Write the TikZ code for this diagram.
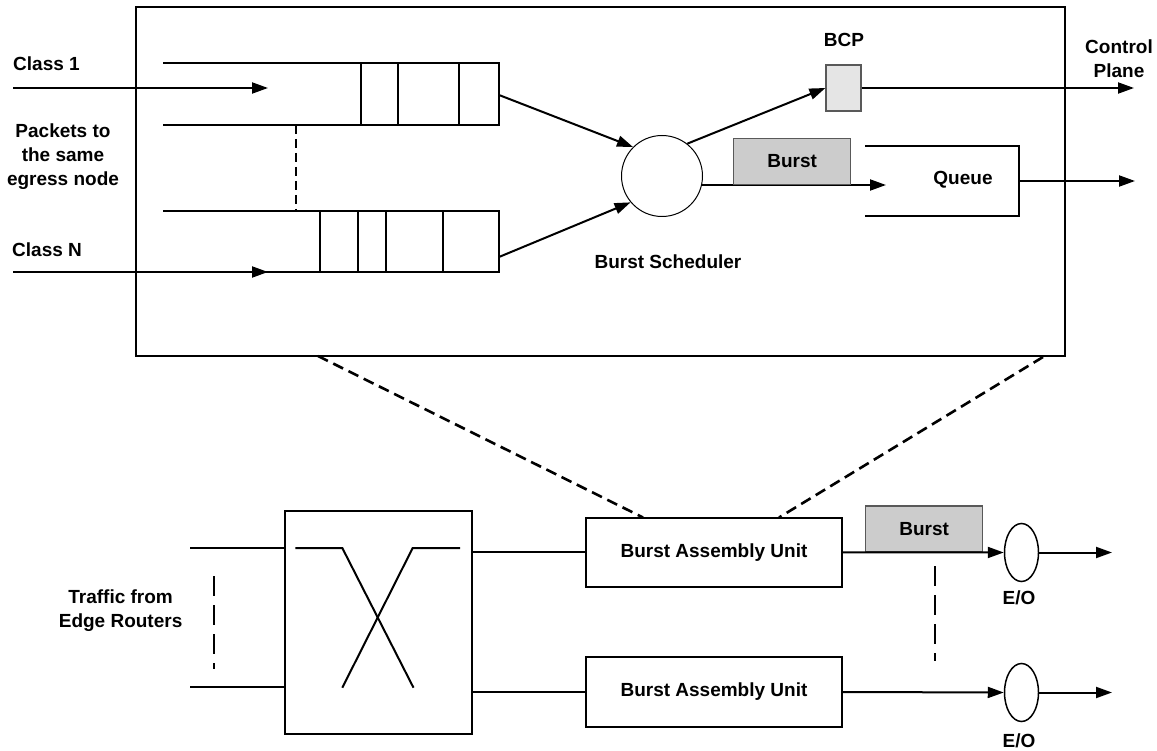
\documentclass[tikz,border=0pt]{standalone}
\usepackage{fontspec}
\setmainfont{Liberation Sans}
\usetikzlibrary{arrows.meta,shapes.geometric}
\definecolor{burstfill}{gray}{0.80}
\definecolor{bcpfill}{gray}{0.90}
\definecolor{burstedge}{gray}{0.35}

\begin{document}
\begin{tikzpicture}[x=1pt,y=-1pt,
  lbl/.style={font=\bfseries\fontsize{19}{24}\selectfont, inner sep=0pt, align=center},
  ln/.style={line width=2pt},
  arr/.style={line width=2pt, -{Triangle[length=16pt,width=11pt]}},
  boxnode/.style={draw, line width=2pt, inner sep=0pt},
  graybox/.style={draw=burstedge, fill=burstfill, line width=1.2pt, inner sep=0pt,
                  font=\bfseries\fontsize{19}{24}\selectfont},
  bigdash/.style={line width=2.6pt, dash pattern=on 11pt off 6pt},
  thindash/.style={line width=1.6pt, dash pattern=on 20pt off 9pt},
  eo/.style={draw, ellipse, line width=1.5pt, minimum width=34pt, minimum height=58pt, inner sep=0pt},
]
\useasboundingbox (0,0) rectangle (1157,751);

% ---------- burst assembly unit, detailed view ----------
\node[boxnode, line width=1.8pt, minimum width=929pt, minimum height=349pt, anchor=north west]
  (outer) at (135,6) {};

% class queues
\draw[ln] (163,63.3) -- (499,63.3) -- (499,124.7) -- (163,124.7);
\foreach \x in {361,398,459} \draw[ln] (\x,63.3) -- (\x,124.7);
\draw[ln] (163,211) -- (499,211) -- (499,271.7) -- (163,271.7);
\foreach \x in {320,358,386,443} \draw[ln] (\x,211) -- (\x,271.7);
\draw[line width=2.4pt, dash pattern=on 9pt off 5pt] (296,125) -- (296,211);

\coordinate (c1in) at (13,88);
\coordinate (c1end) at (268,88);
\coordinate (cnin) at (13,272);
\coordinate (cnend) at (268,272);
\coordinate (q1out) at (499,95);
\coordinate (qnout) at (499,257);
\draw[arr] (c1in) -- (c1end);
\draw[arr] (cnin) -- (cnend);

\node[lbl, anchor=west] (class1) at (13,64) {Class 1};
\node[lbl, anchor=west] (classn) at (12,250) {Class N};
\node[lbl] (packets) at (63,157) {Packets to\\the same\\egress node};

% scheduler
\node[draw, circle, line width=1pt, minimum size=81pt, inner sep=0pt] (sched) at (662,176) {};
\node[lbl] (schedlbl) at (668,262) {Burst Scheduler};
\draw[arr] (q1out) -- (sched.135);
\draw[arr] (qnout) -- (sched.220);

% burst control packet
\node[draw=burstedge, fill=bcpfill, line width=1.2pt, minimum width=35pt, minimum height=46pt,
      inner sep=0pt] (bcp) at (843.5,88) {};
\node[lbl] (bcplbl) at (844,40) {BCP};
\draw[arr] (sched.52) -- (bcp.west);
\coordinate (ctrl) at (1134,88);
\draw[arr] (bcp.east) -- (ctrl);
\node[lbl] (ctrllbl) at (1119,59) {Control\\Plane};

% burst into the output queue
\coordinate (qin) at (886,185);
\draw[arr] (qin -| sched.-13) -- (qin);
\node[graybox, minimum width=117pt, minimum height=46pt, anchor=south west] (burst1) at (733,185) {Burst};
\draw[ln] (865,145.7) -- (1019,145.7) -- (1019,215.7) -- (865,215.7);
\node[lbl] (queuelbl) at (963,180) {Queue};
\coordinate (qout) at (1019,181);
\coordinate (qend) at (1135,181);
\draw[arr] (qout) -- (qend);

% ---------- edge node ----------
\node[boxnode, minimum width=187pt, minimum height=223pt] (sw) at (378,622.3) {};
\coordinate (in1) at (190,548);
\coordinate (in2) at (190,687);
\draw[ln] (in1) -- (in1 -| sw.west);
\draw[ln] (in2) -- (in2 -| sw.west);
\draw[thindash] (214,576) -- (214,669);
\node[lbl] (traffic) at (120.6,611) {Traffic from\\Edge Routers};
\draw[ln] (295.4,548) -- (342.3,548) -- (413.5,687.7);
\draw[ln] (460,548) -- (412.7,548) -- (342.3,687.7);

\node[boxnode, minimum width=256pt, minimum height=69.5pt, lbl] (bau1) at (714,552.3) {Burst Assembly Unit};
\node[boxnode, minimum width=256pt, minimum height=69.5pt, lbl] (bau2) at (714,692) {Burst Assembly Unit};
\draw[ln] (sw.east |- bau1.west) -- (bau1.west);
\draw[ln] (sw.east |- bau2.west) -- (bau2.west);

% zoom-in guides
\coordinate (dl) at (318,356);
\coordinate (dr) at (1043,357);
\coordinate (bl) at (643,517.5);
\coordinate (br) at (779,517.5);
\draw[bigdash] (dl) -- (bl);
\draw[bigdash] (dr) -- (br);

% burst and E/O converters
\node[graybox, minimum width=117pt, minimum height=46pt, anchor=south west] (burst2) at (865,552.5) {Burst};
\node[eo] (eo1) at (1021.5,552.5) {};
\node[eo] (eo2) at (1021.5,692.5) {};
\draw[arr] (bau1.east) -- (eo1.west);
\draw[arr] (bau2.east) -- (eo2.west);
\coordinate (out1) at (1112,552.5);
\coordinate (out2) at (1112,692.5);
\draw[arr] (eo1.east) -- (out1);
\draw[arr] (eo2.east) -- (out2);
\node[lbl] (eo1lbl) at (1019,598) {E/O};
\node[lbl] (eo2lbl) at (1019,741) {E/O};
\draw[thindash] (935,566) -- (935,661);
\end{tikzpicture}
\end{document}
